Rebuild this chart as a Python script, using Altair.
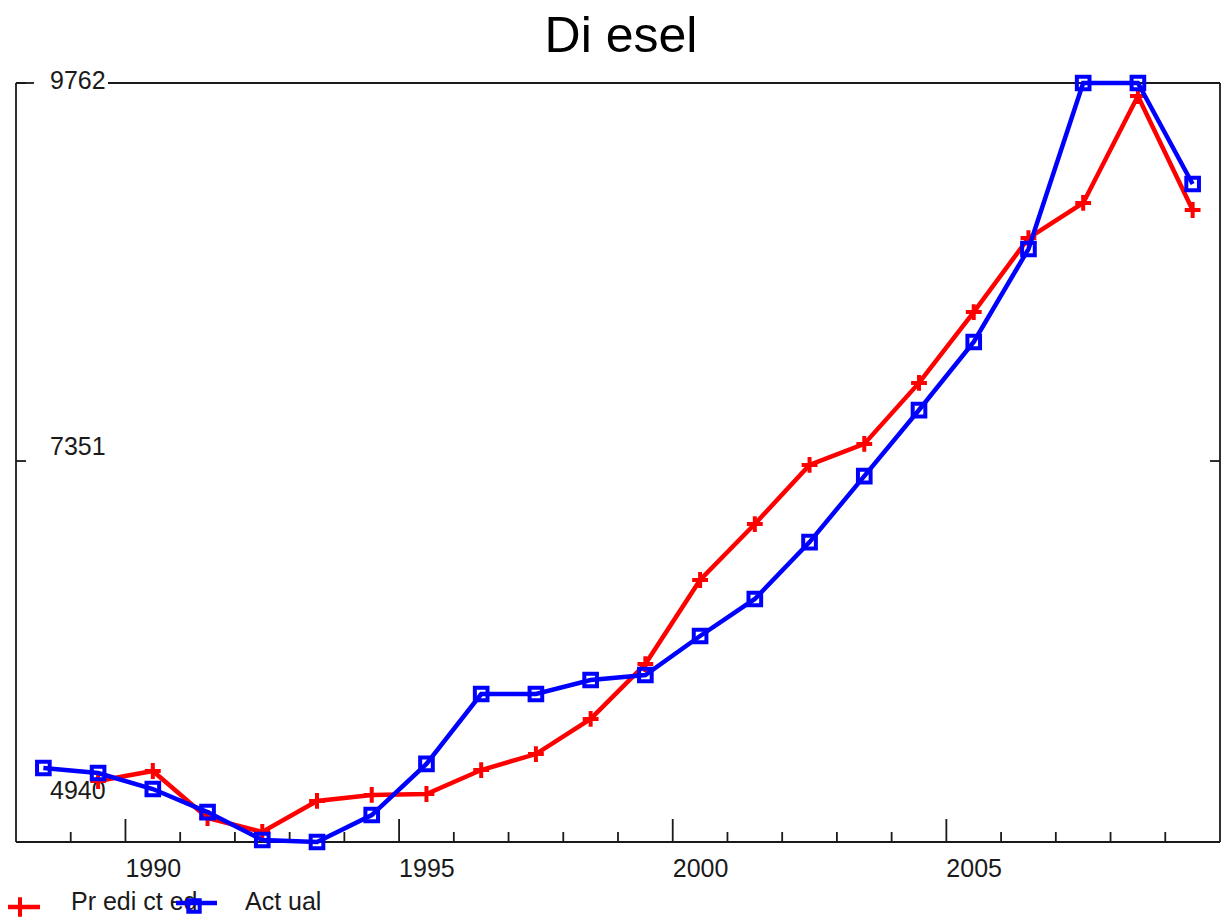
import altair as alt
import pandas as pd

# ---- data ----
years = list(range(1988, 2010))
actual = [5393, 5361, 5259, 5112, 4934, 4921, 5093, 5419, 5865, 5865, 5954,
          5986, 6235, 6471, 6834, 7255, 7676, 8110, 8703, 9762, 9762, 9118]
pred_years = list(range(1989, 2010))
predicted = [5310, 5374, 5074, 4985, 5183, 5221, 5227, 5380, 5482, 5706,
             6056, 6592, 6949, 7326, 7460, 7849, 8301, 8773, 8997, 9679, 8952]
y_tick_values = [4940, 7351, 9762]
y_tick_marks = [7351, 9762]
y_label_dy = [-48, -14, -2]
x_label_years = [1990, 1995, 2000, 2005]
minor_years = [y for y in range(1989, 2010) if y % 5 != 0]
major_years = [1990, 1995, 2000, 2005]

title_text = "Di esel"
legend_pred = "Pr edi ct ed"
legend_act = "Act ual"

W, H = 1204, 759
FONT = "Liberation Sans"
INK = "#1a1a1a"
RED = "#ff0000"
BLUE = "#0000ff"

xs = alt.Scale(domain=[1988, 2010], nice=False, zero=False)
ys = alt.Scale(domain=[4921, 9762], nice=False, zero=False)

act_df = pd.DataFrame({"t": [y + 0.5 for y in years], "v": actual})
pred_df = pd.DataFrame({"t": [y + 0.5 for y in pred_years], "v": predicted})

X = alt.X("t:Q", scale=xs, axis=None)
Y = alt.Y("v:Q", scale=ys, axis=None)

one = alt.Data(values=[{"a": 0}])

layers = []

# frame (top has a gap where the 9762 label sits)
frame_kw = dict(color=INK, strokeWidth=1.8)
layers.append(alt.Chart(one).mark_rule(**frame_kw).encode(x=alt.value(0), y=alt.value(0), y2=alt.value(H)))
layers.append(alt.Chart(one).mark_rule(**frame_kw).encode(x=alt.value(W), y=alt.value(0), y2=alt.value(H)))
layers.append(alt.Chart(one).mark_rule(**frame_kw).encode(x=alt.value(0), x2=alt.value(W), y=alt.value(H)))
layers.append(alt.Chart(one).mark_rule(**frame_kw).encode(x=alt.value(0), x2=alt.value(18), y=alt.value(0)))
layers.append(alt.Chart(one).mark_rule(**frame_kw).encode(x=alt.value(92), x2=alt.value(W), y=alt.value(0)))

# x ticks (inward)
layers.append(alt.Chart(pd.DataFrame({"t": minor_years})).mark_rule(color=INK, strokeWidth=1.8).encode(
    x=alt.X("t:Q", scale=xs, axis=None), y=alt.value(H - 10), y2=alt.value(H)))
layers.append(alt.Chart(pd.DataFrame({"t": major_years})).mark_rule(color=INK, strokeWidth=1.8).encode(
    x=alt.X("t:Q", scale=xs, axis=None), y=alt.value(H - 23), y2=alt.value(H)))

# y ticks (inward, left and right)
ytk = pd.DataFrame({"v": y_tick_marks})
layers.append(alt.Chart(ytk).mark_rule(color=INK, strokeWidth=1.8).encode(
    y=Y, x=alt.value(0), x2=alt.value(10)))
layers.append(alt.Chart(ytk).mark_rule(color=INK, strokeWidth=1.8).encode(
    y=Y, x=alt.value(W - 10), x2=alt.value(W)))

# y labels
for v, dy in zip(y_tick_values, y_label_dy):
    layers.append(alt.Chart(alt.Data(values=[{"v": v, "lab": str(v)}])).mark_text(
        font=FONT, fontSize=25, color=INK, align="left", baseline="middle", dy=dy).encode(
        y=Y, x=alt.value(34), text="lab:N"))

# x labels
layers.append(alt.Chart(pd.DataFrame({"t": x_label_years, "lab": [str(y) for y in x_label_years]})).mark_text(
    font=FONT, fontSize=25, color=INK, align="left", baseline="alphabetic").encode(
    x=alt.X("t:Q", scale=xs, axis=None), y=alt.value(H + 35), text="lab:N"))

# title
layers.append(alt.Chart(one).mark_text(
    text=title_text, font=FONT, fontSize=50, color="#000", align="center", baseline="alphabetic").encode(
    x=alt.value(W / 2 + 3), y=alt.value(-31)))

cross = "M-1,0H1M0,-1V1"

# predicted
layers.append(alt.Chart(pred_df).mark_line(color=RED, strokeWidth=4.5).encode(x=X, y=Y))
layers.append(alt.Chart(pred_df).mark_point(shape=cross, filled=False, color=RED, size=250, strokeWidth=4, opacity=1).encode(x=X, y=Y))
# actual
layers.append(alt.Chart(act_df).mark_line(color=BLUE, strokeWidth=4.5).encode(x=X, y=Y))
layers.append(alt.Chart(act_df).mark_point(shape="square", filled=False, color=BLUE, size=160, strokeWidth=4, opacity=1).encode(x=X, y=Y))

# legend
layers.append(alt.Chart(one).mark_rule(color=RED, strokeWidth=4.5).encode(x=alt.value(-8), x2=alt.value(24), y=alt.value(824)))
layers.append(alt.Chart(one).mark_point(shape=cross, filled=False, color=RED, size=380, strokeWidth=4, opacity=1).encode(x=alt.value(4), y=alt.value(824)))
layers.append(alt.Chart(one).mark_text(text=legend_pred, font=FONT, fontSize=25, color=INK, align="left", baseline="alphabetic").encode(
    x=alt.value(55), y=alt.value(827)))
layers.append(alt.Chart(one).mark_rule(color=BLUE, strokeWidth=4.5).encode(x=alt.value(160), x2=alt.value(201), y=alt.value(820)))
layers.append(alt.Chart(one).mark_point(shape="square", filled=False, color=BLUE, size=130, strokeWidth=4, opacity=1).encode(x=alt.value(178), y=alt.value(823)))
layers.append(alt.Chart(one).mark_text(text=legend_act, font=FONT, fontSize=25, color=INK, align="left", baseline="alphabetic").encode(
    x=alt.value(229), y=alt.value(827)))

chart = alt.layer(*layers).properties(
    width=W, height=H,
    autosize=alt.AutoSizeParams(type="none"),
    padding={"left": 8, "top": 75, "right": 3, "bottom": 78},
).configure_view(stroke=None)

chart.save("out.html", embed_options={"renderer": "svg", "actions": False})
